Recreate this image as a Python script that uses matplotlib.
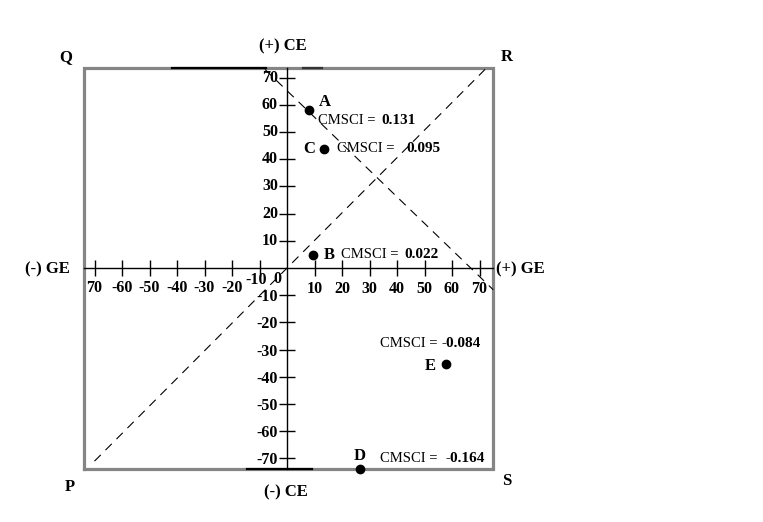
import matplotlib.pyplot as plt
import numpy as np

plt.rcParams['font.family'] = ['Liberation Serif', 'DejaVu Serif']

# compounds: GE (x), CE (y), CMSCI score
names = ['A', 'C', 'B', 'E', 'D']
ge = [8, 13.5, 9.5, 57.8, 26.5]
ce = [58, 43.8, 4.8, -35.3, -74]
cmsci = ['0.131', '0.095', '0.022', '-0.084', '-0.164']

ticks = [10, 20, 30, 40, 50, 60, 70]

# dashed reference lines
diag1_x = [-70, 72]
diag1_y = [-71, 73]
diag2_x = [-8, 75]
diag2_y = [73, -8]

# box edges
box_x = [-73.8, 74.9]
box_y = [-73.9, 73.5]

fig = plt.figure(figsize=(7.63, 5.22), dpi=100)
ax = fig.add_axes([0, 0, 1, 1])
ax.set_xlim((0 - 287) / 2.75, (763 - 287) / 2.75)
ax.set_ylim((268 - 522) / 2.72, (268 - 0) / 2.72)
ax.axis('off')

# box
gray = '#858585'
ax.plot([box_x[0], box_x[1], box_x[1], box_x[0], box_x[0]],
        [box_y[0], box_y[0], box_y[1], box_y[1], box_y[0]],
        color=gray, lw=2.3, solid_joinstyle='miter')
# darker pen strokes on the border
ax.plot([-41.8, -7.6], [box_y[1], box_y[1]], color='black', lw=1.6)
ax.plot([5.8, 12.7], [box_y[1], box_y[1]], color='#333333', lw=1.6)
ax.plot([-14.5, 9.1], [box_y[0], box_y[0]], color='black', lw=1.6)

# axes
ax.plot([0, 0], [box_y[0], box_y[1]], color='black', lw=1)
ax.plot([box_x[0], box_x[1]], [0, 0], color='black', lw=1)

# dashed lines
ax.plot(diag1_x, diag1_y, color='black', lw=0.8, dashes=(8, 6))
ax.plot(diag2_x, diag2_y, color='black', lw=0.8, dashes=(8, 6))

bold = dict(fontweight='bold', fontsize=11.5, color='black')
xt = np.array(ticks)
ax.plot(np.concatenate([xt, -xt]), np.zeros(14), ls='none', marker='|',
        ms=11, mew=1, color='black')
ax.plot(np.zeros(14), np.concatenate([xt, -xt]), ls='none', marker='_',
        ms=11, mew=1, color='black')

for t in ticks:
    ax.annotate(str(t), (t, 0), xytext=(0, -21), textcoords='offset pixels',
                ha='center', va='center', **bold)
    ax.annotate(str(t), (0, t), xytext=(-9, 0), textcoords='offset pixels',
                ha='right', va='center', **bold)
    ax.annotate('-' + str(t), (0, -t), xytext=(-9, -2), textcoords='offset pixels',
                ha='right', va='center', **bold)
    if t == 70:
        lab = '70'
    else:
        lab = '-' + str(t)
    off = (-3, -12) if t == 10 else (0, -20)
    ax.annotate(lab, (-t, 0), xytext=off, textcoords='offset pixels',
                ha='center', va='center', **bold)
ax.annotate('0', (0, 0), xytext=(-10, -11), textcoords='offset pixels',
            ha='center', va='center', **bold)

# points
ax.plot(ge, ce, 'o', color='black', ms=6)

letter_off = {'A': (16, 8), 'C': (-15, 0), 'B': (16, 0), 'E': (-16, -2), 'D': (0, 13)}
cm_off = {'A': (9, -10), 'C': (13, 0), 'B': (28, 0), 'E': (-66, 21), 'D': (20, 11)}
val_off = {'A': (72, -10), 'C': (82, 0), 'B': (91, 0), 'E': (-4, 21), 'D': (86, 11)}
for n, x, y, v in zip(names, ge, ce, cmsci):
    ax.annotate(n, (x, y), xytext=letter_off[n], textcoords='offset pixels',
                ha='center', va='center', fontweight='bold', fontsize=12)
    ax.annotate('CMSCI =', (x, y), xytext=cm_off[n], textcoords='offset pixels',
                ha='left', va='center', fontsize=10.5)
    ax.annotate(v, (x, y), xytext=val_off[n], textcoords='offset pixels',
                ha='left', va='center', fontweight='bold', fontsize=11)

# corner and axis labels
lab = dict(fontweight='bold', fontsize=12, ha='center', va='center')
ax.text(-80.4, 77.6, 'Q', **lab)
ax.text(80.0, 77.6, 'R', **lab)
ax.text(-78.9, -80.5, 'P', **lab)
ax.text(80.0, -78.3, 'S', **lab)
ax.text(-1.5, 81.6, '(+) CE', **lab)
ax.text(-0.4, -82.4, '(-) CE', **lab)
ax.text(-87.3, -0.4, '(-) GE', **lab)
ax.text(84.7, -0.4, '(+) GE', **lab)

fig.savefig('out.png', dpi=100)
